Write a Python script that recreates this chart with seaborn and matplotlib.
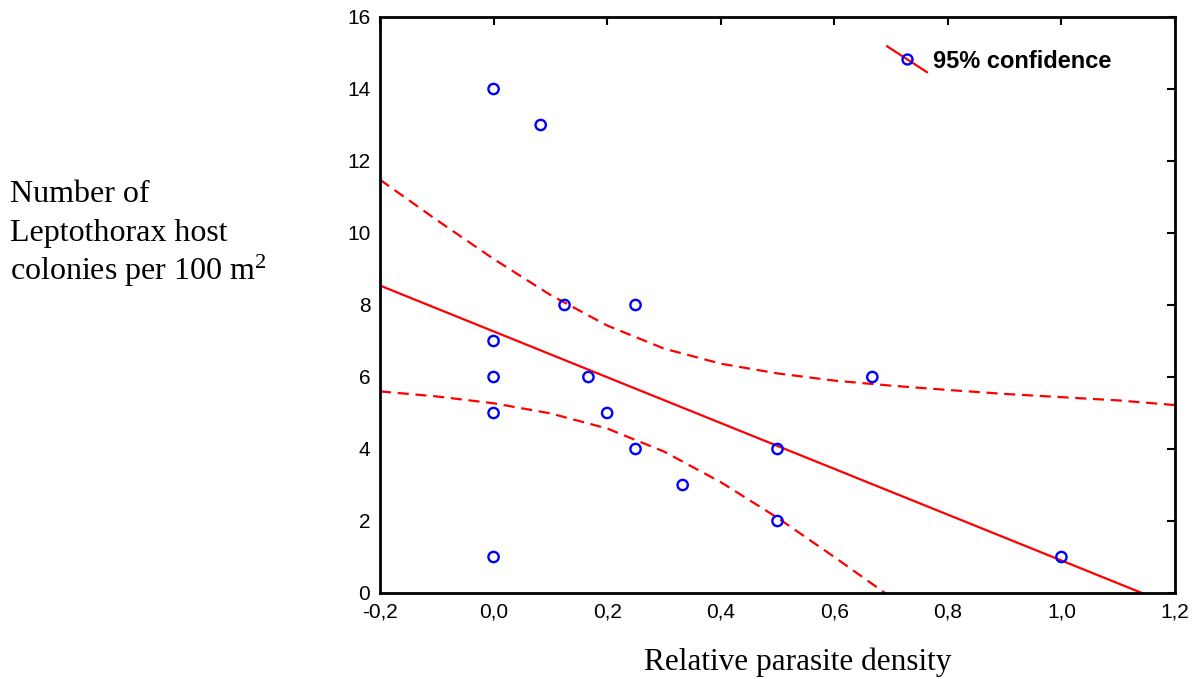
import numpy as np
import pandas as pd
import matplotlib
matplotlib.use("Agg")
import matplotlib.pyplot as plt
import seaborn as sns
from matplotlib.lines import Line2D
from matplotlib.legend_handler import HandlerBase

# ---- data ----
density = [0.0, 0.083, 0.125, 0.25, 0.0, 0.0, 0.167, 0.667, 0.0, 0.2, 0.25, 0.5, 0.333, 0.5, 0.0, 1.0]
colonies = [14, 13, 8, 8, 7, 6, 6, 6, 5, 5, 4, 4, 3, 2, 1, 1]

fit_x = [-0.2, 1.2]
fit_y = [8.54, -0.37]

ci_x = [-0.2, -0.1, 0.0, 0.1, 0.2, 0.3, 0.4, 0.5, 0.6, 0.7, 0.8, 0.9, 1.0, 1.1, 1.2]
ci_upper = [11.48, 10.36, 9.28, 8.28, 7.43, 6.79, 6.37, 6.10, 5.90, 5.76, 5.64, 5.53, 5.44, 5.35, 5.22]
ci_lower = [5.60, 5.46, 5.27, 4.99, 4.57, 3.93, 3.08, 2.09, 1.00, -0.12, -1.3, -2.4, -3.6, -4.8, -6.0]

x_ticks = [-0.2, 0.0, 0.2, 0.4, 0.6, 0.8, 1.0, 1.2]
x_labels = ["-0,2", "0,0", "0,2", "0,4", "0,6", "0,8", "1,0", "1,2"]
y_ticks = [0, 2, 4, 6, 8, 10, 12, 14, 16]

legend_label = "95% confidence"
x_title = "Relative parasite density"
y_title_lines = ["Number of", "Leptothorax host", "colonies per 100 m$^2$"]

# ---- style ----
sns.set_style("white")
plt.rcParams["font.family"] = ["Liberation Sans", "DejaVu Sans"]
plt.rcParams["mathtext.fontset"] = "custom"
plt.rcParams["mathtext.rm"] = "Liberation Serif"
plt.rcParams["mathtext.it"] = "Liberation Serif:italic"
plt.rcParams["text.color"] = "black"
plt.rcParams["axes.labelcolor"] = "black"
plt.rcParams["xtick.color"] = "black"
plt.rcParams["ytick.color"] = "black"

RED = "#FF0000"
BLUE = "#0000FF"

fig = plt.figure(figsize=(11.96, 6.79), dpi=100)
ax = fig.add_axes([380 / 1196, 1 - 593 / 679, (1175 - 380) / 1196, (593 - 17) / 679])

pts = pd.DataFrame({"x": density, "y": colonies})
fit = pd.DataFrame({"x": fit_x, "y": fit_y})
ci = pd.DataFrame({"x": ci_x, "up": ci_upper, "lo": ci_lower})

sns.lineplot(data=ci, x="x", y="up", ax=ax, color=RED, lw=1.6, dashes=False,
             linestyle=(0, (5, 3)), sort=True, estimator=None)
sns.lineplot(data=ci, x="x", y="lo", ax=ax, color=RED, lw=1.6, dashes=False,
             linestyle=(0, (5, 3)), sort=True, estimator=None)
sns.lineplot(data=fit, x="x", y="y", ax=ax, color=RED, lw=1.6, estimator=None)
sns.scatterplot(data=pts, x="x", y="y", ax=ax, marker="o", s=55,
                facecolor="none", edgecolor=BLUE, linewidth=1.7, zorder=5)

ax.set_xlim(-0.2, 1.2)
ax.set_ylim(0, 16)
ax.set_xticks(x_ticks)
ax.set_xticklabels(x_labels)
ax.set_yticks(y_ticks)
ax.set_xlabel("")
ax.set_ylabel("")
ax.tick_params(direction="in", length=6, width=1.5, top=True, right=True,
               labelsize=15, colors="black", labelcolor="black", pad=7)
for s in ax.spines.values():
    s.set_visible(True)
    s.set_linewidth(2)
    s.set_color("black")


class HandlerDiag(HandlerBase):
    def create_artists(self, legend, orig_handle, xdescent, ydescent, width, height, fontsize, trans):
        cy = height / 2 - ydescent
        line = Line2D([-xdescent, -xdescent + width], [cy + 9.4, cy - 9.4], color=RED, lw=1.6)
        mk = Line2D([-xdescent + width / 2], [cy], marker="o", markersize=7.2,
                    markerfacecolor="none", markeredgecolor=BLUE, markeredgewidth=1.7, linestyle="")
        line.set_transform(trans)
        mk.set_transform(trans)
        return [line, mk]


proxy = Line2D([], [], color=RED)
leg = fig.legend(handles=[proxy], labels=[legend_label], handler_map={Line2D: HandlerDiag()},
                 loc="center left", bbox_to_anchor=(887 / 1196, 1 - 61 / 679), frameon=False,
                 borderpad=0, borderaxespad=0, handlelength=1.7, handletextpad=0.25,
                 prop={"family": "Liberation Sans", "weight": "bold", "size": 17})
for t in leg.get_texts():
    t.set_color("black")

fig.text(798 / 1196, 1 - 662 / 679, x_title, ha="center", va="center",
         fontfamily="Liberation Serif", fontsize=22.5, color="black")
baselines = [201.5, 240.5, 280]
for line_txt, yb in zip(y_title_lines, baselines):
    fig.text(10 / 1196, 1 - yb / 679, line_txt, ha="left", va="baseline",
             fontfamily="Liberation Serif", fontsize=23, color="black")

fig.savefig("out.png", dpi=100)
